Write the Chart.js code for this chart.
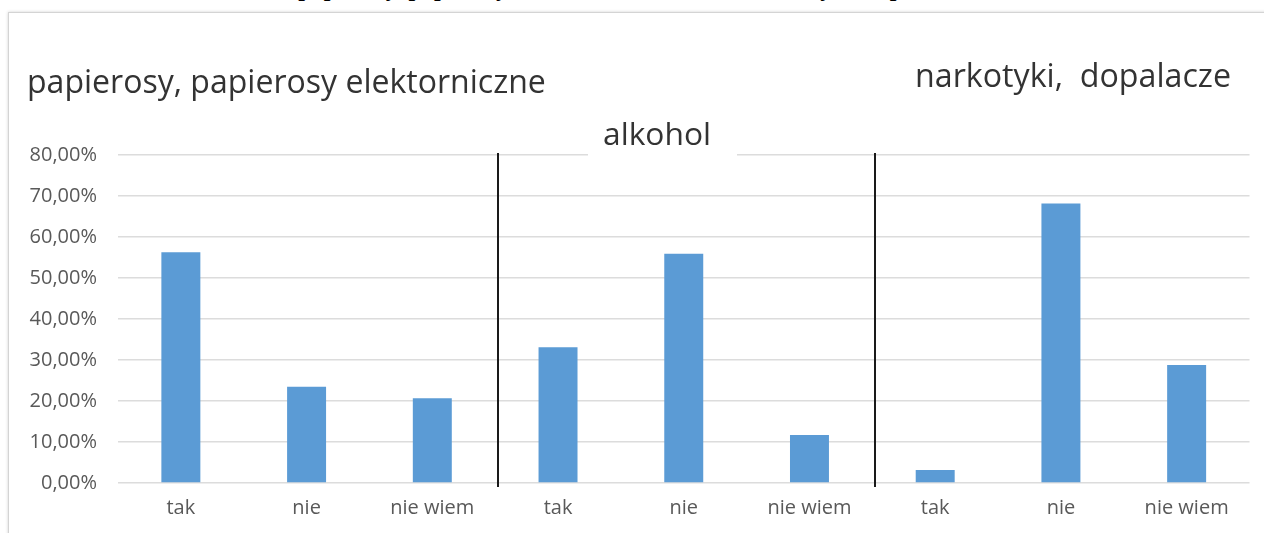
<!DOCTYPE html>
<html><head><meta charset="utf-8">
<script src="https://cdn.jsdelivr.net/npm/chart.js@4"></script>
<style>
html,body{margin:0;padding:0;background:#fff;overflow:hidden}
#wrap{position:relative;width:1264px;height:533px;overflow:hidden}
#frame{position:absolute;left:8px;top:12px;width:1300px;height:600px;border:1.5px solid #d4d4d4;box-shadow:0 0 3px rgba(0,0,0,0.18)}
#title{position:absolute;left:0;top:-25px;width:1264px;text-align:center;font:bold 24px "Liberation Serif";color:#000;white-space:nowrap}
canvas{position:absolute;left:0;top:0}
</style></head>
<body><div id="wrap">
<div id="title">papierosy, papierosy elektroniczne, alkohol, narkotyki, dopalacze</div>
<div id="frame"></div>
<canvas id="c" width="1264" height="533"></canvas>
</div>
<script>
const categories = ['tak','nie','nie wiem','tak','nie','nie wiem','tak','nie','nie wiem'];
const values = [56.3, 23.5, 20.7, 33.1, 55.9, 11.7, 3.2, 68.2, 28.8];
const groupTitles = ['papierosy, papierosy elektorniczne','alkohol','narkotyki,  dopalacze'];
const yMin = 0, yMax = 80, yStep = 10;

const FONT = '"Open Sans", sans-serif';
const fmt = v => v.toFixed(2).replace('.', ',') + '%';

const overlay = {
  id: 'overlay',
  afterDatasetsDraw(chart) {
    const ctx = chart.ctx, xs = chart.scales.x, ys = chart.scales.y;
    ctx.save();
    ctx.strokeStyle = '#1a1a1a';
    ctx.lineWidth = 2;
    [2.5, 5.5].forEach(b => {
      const x = Math.round(xs.getPixelForValue(b)) + 3;
      ctx.beginPath();
      ctx.moveTo(x, ys.getPixelForValue(yMax) - 2);
      ctx.lineTo(x, ys.getPixelForValue(yMin) + 4);
      ctx.stroke();
    });
    ctx.fillStyle = '#fff';
    ctx.fillRect(588, 110, 149, 48);
    ctx.fillStyle = '#333333';
    ctx.textBaseline = 'alphabetic';
    const fit = (txt, w) => { ctx.font = '100px ' + FONT; return 100 * w / ctx.measureText(txt).width; };
    let s = fit(groupTitles[0], 519);
    ctx.font = s + 'px ' + FONT; ctx.textAlign = 'left';
    ctx.fillText(groupTitles[0], 27, 93);
    s = fit(groupTitles[1], 108);
    ctx.font = s + 'px ' + FONT; ctx.textAlign = 'center';
    ctx.fillText(groupTitles[1], 657, 145);
    s = fit(groupTitles[2], 316);
    ctx.font = s + 'px ' + FONT; ctx.textAlign = 'right';
    ctx.fillText(groupTitles[2], 1231, 87);
    ctx.restore();
  }
};

new Chart(document.getElementById('c'), {
  type: 'bar',
  data: {
    labels: categories,
    datasets: [{
      data: values,
      backgroundColor: '#5b9bd5',
      borderWidth: 0,
      categoryPercentage: 1,
      barPercentage: 0.31
    }]
  },
  options: {
    responsive: false,
    animation: false,
    layout: { padding: { top: 155, left: 0, right: 14.5, bottom: 0 } },
    plugins: { legend: { display: false }, tooltip: { enabled: false }, title: { display: false } },
    scales: {
      x: {
        grid: { display: false, drawTicks: false },
        border: { display: false },
        ticks: { color: '#595959', font: { family: FONT, size: 20 }, padding: 13, maxRotation: 0, autoSkip: false },
        afterFit: s => { s.height = 50; }
      },
      y: {
        min: yMin, max: yMax,
        grid: { color: '#dcdcdc', lineWidth: 1.5, drawTicks: false },
        border: { display: false },
        ticks: { stepSize: yStep, color: '#595959', font: { family: FONT, size: 20 }, padding: 21, callback: v => fmt(v) },
        afterFit: s => { s.width = 118; }
      }
    }
  },
  plugins: [overlay]
});
</script>
</body></html>
